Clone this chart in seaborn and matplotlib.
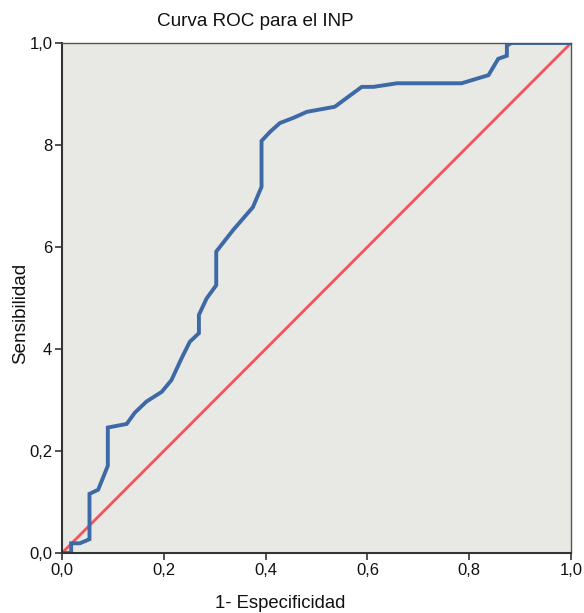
import numpy as np
import pandas as pd
import matplotlib
matplotlib.use("Agg")
import matplotlib.pyplot as plt
import seaborn as sns

fpr = [0.0, 0.018, 0.018, 0.035, 0.054, 0.054, 0.071, 0.090, 0.090, 0.127, 0.143,
       0.166, 0.196, 0.215, 0.235, 0.251, 0.269, 0.269, 0.284, 0.303, 0.303, 0.336,
       0.375, 0.392, 0.392, 0.409, 0.428, 0.454, 0.481, 0.536, 0.563, 0.589, 0.612,
       0.658, 0.785, 0.838, 0.857, 0.874, 0.874, 0.883, 1.0]
tpr = [0.0, 0.0, 0.019, 0.019, 0.027, 0.116, 0.124, 0.171, 0.246, 0.253, 0.275,
       0.297, 0.316, 0.339, 0.382, 0.414, 0.431, 0.467, 0.499, 0.525, 0.591, 0.633,
       0.678, 0.718, 0.808, 0.826, 0.843, 0.853, 0.865, 0.875, 0.895, 0.914, 0.914,
       0.921, 0.921, 0.937, 0.969, 0.975, 0.995, 1.0, 1.0]
ref_x = [0.0, 1.0]
ref_y = [0.0, 1.0]
xtick_vals = [0.0, 0.2, 0.4, 0.6, 0.8, 1.0]
xtick_labels = ["0,0", "0,2", "0,4", "0,6", "0,8", "1,0"]
ytick_vals = [0.0, 0.2, 0.4, 0.6, 0.8, 1.0]
ytick_labels = ["0,0", "0,2", "4", "6", "8", "1,0"]

sns.set_style("ticks")
plt.rcParams["font.family"] = ["Liberation Sans", "DejaVu Sans"]

fig = plt.figure(figsize=(5.84, 6.13), dpi=100)
ax = fig.add_axes([62/584, 1-553/613, 509/584, 510/613])
ax.set_facecolor("#e8e8e4")

curve = pd.DataFrame({"x": fpr, "y": tpr})
ref = pd.DataFrame({"x": ref_x, "y": ref_y})
sns.lineplot(data=ref, x="x", y="y", ax=ax, color="#f4525c", linewidth=2.0,
             sort=False, estimator=None)
sns.lineplot(data=curve, x="x", y="y", ax=ax, color="#3d69a7", linewidth=2.8,
             sort=False, estimator=None, solid_joinstyle="miter")

ax.set_xlim(0, 1)
ax.set_ylim(0, 1)
ax.set_xticks(xtick_vals)
ax.set_xticklabels(xtick_labels)
ax.set_yticks(ytick_vals)
ax.set_yticklabels(ytick_labels)
ax.tick_params(axis="both", labelsize=12, length=5, width=1.2, color="#333333",
               labelcolor="#111111", direction="out", pad=2)
ax.set_xlabel("")
ax.set_ylabel("")
for side in ["left", "bottom"]:
    ax.spines[side].set_color("#333333")
    ax.spines[side].set_linewidth(1.5)
for side in ["top", "right"]:
    ax.spines[side].set_visible(True)
    ax.spines[side].set_color("#555555")
    ax.spines[side].set_linewidth(1.0)

fig.text(255/584, 1-22/613, "Curva ROC para el INP", ha="center", va="center",
         fontsize=13.6, color="#111111")
fig.text(280/584, 1-603/613, "1- Especificidad", ha="center", va="center",
         fontsize=13.3, color="#111111")
fig.text(21/584, 1-313/613, "Sensibilidad", ha="center", va="center",
         rotation=90, fontsize=13.6, color="#111111")

fig.savefig("out.png", dpi=100, facecolor="white")
